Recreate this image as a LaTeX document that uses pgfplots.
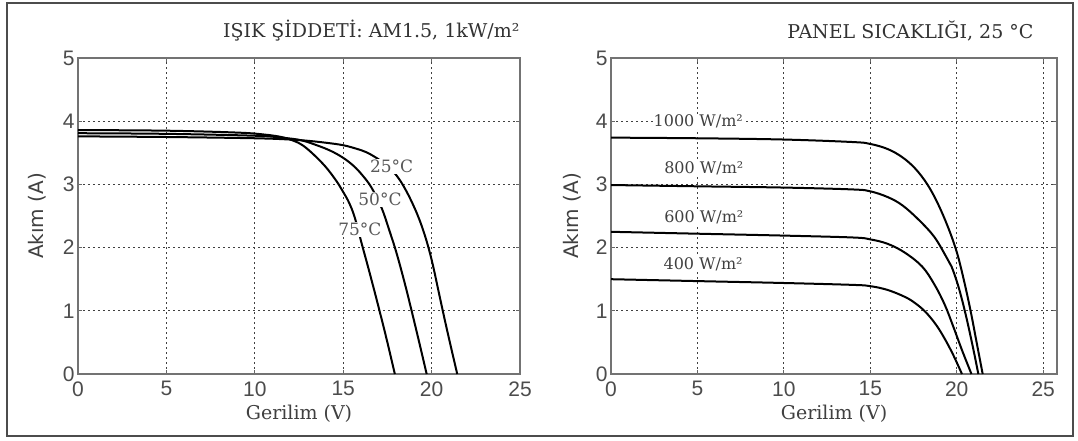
\documentclass[border=0pt]{standalone}
\usepackage{pgfplots}
\pgfplotsset{compat=1.18}
\usepackage{fontspec}
\setmainfont{DejaVu Serif}
\setsansfont{Liberation Sans}
\newfontfamily\dvsans{DejaVu Sans}

\pgfplotsset{
  myax/.style={
    scale only axis, anchor=south west,
    xmin=0, ymin=0, ymax=5,
    xtick={0,5,10,15,20,25}, ytick={0,1,2,3,4,5},
    grid=major,
    major grid style={black!75, line width=1pt, dash pattern=on 2pt off 3pt},
    axis line style={black!55, line width=1.3pt},
    tick style={black!60, line width=0.8pt},
    major tick length=4pt, tick align=inside,
    /pgf/number format/assume math mode=true,
    tick label style={font=\fontsize{21}{24}\selectfont\sffamily, text=black!70},
    xticklabel style={yshift=-4pt},
    xlabel={Gerilim (V)}, ylabel={Akım (A)},
    xlabel style={font=\fontsize{19}{22}\selectfont, text=black!75, at={(axis description cs:0.5,-0.125)}, anchor=center},
    ylabel style={font=\fontsize{20}{22}\selectfont\dvsans, text=black!75, anchor=center},
    every axis plot post/.append style={black, line width=2pt, mark=none, smooth, tension=0.6},
  },
}
\tikzset{clab/.style={font=\fontsize{17}{19}\selectfont, text=black!65, fill=white, inner sep=1pt}}

\begin{document}
\begin{tikzpicture}[x=1pt,y=1pt]
\useasboundingbox (0,0) rectangle (1078,440);
\fill[white] (0,0) rectangle (1078,440);
\draw[black!70, line width=2pt] (7,4) rectangle (1073,437);

\node[anchor=east, font=\fontsize{19}{22}\selectfont, text=black!80] at (523,409) {IŞIK ŞİDDETİ: AM1.5, 1kW/m²};
\node[anchor=east, font=\fontsize{19}{22}\selectfont, text=black!80] at (1037,409) {PANEL SICAKLIĞI, 25 °C};

\begin{axis}[myax, at={(78pt,66pt)}, width=442pt, height=316pt, xmax=25,
  ylabel style={at={(axis description cs:-0.093,0.5)}}]
% 75 C
\addplot coordinates {(0,3.86) (5,3.85) (9,3.82) (10.5,3.79) (11.5,3.75) (12.2,3.69) (12.7,3.62) (13.3,3.48) (14.0,3.28) (14.6,3.06) (15.0,2.88) (15.35,2.7) (15.66,2.47) (16.04,2.07) (16.4,1.7) (16.75,1.33) (17.1,0.95) (17.5,0.5) (17.92,0)};
% 50 C
\addplot coordinates {(0,3.81) (5,3.8) (10,3.77) (11.5,3.74) (12.6,3.7) (13.5,3.62) (14.3,3.53) (15,3.42) (15.6,3.29) (16.1,3.14) (16.6,2.95) (17.17,2.63) (17.6,2.28) (18.0,1.93) (18.45,1.47) (18.87,1.0) (19.3,0.5) (19.72,0)};
% 25 C
\addplot coordinates {(0,3.76) (5,3.75) (10,3.73) (12,3.71) (13,3.69) (14,3.66) (15,3.62) (15.8,3.56) (16.3,3.51) (16.7,3.45) (17.2,3.36) (17.6,3.27) (18.02,3.14) (18.4,2.98) (18.85,2.74) (19.3,2.45) (19.7,2.12) (20.05,1.75) (20.4,1.3) (20.75,0.85) (21.1,0.42) (21.45,0)};
\node[clab] at (axis cs:17.74,3.29) {25°C};
\node[clab] at (axis cs:17.08,2.76) {50°C};
\node[clab] at (axis cs:15.94,2.29) {75°C};
\end{axis}

\begin{axis}[myax, at={(611pt,66pt)}, width=446pt, height=316pt, xmax=25.8,
  ylabel style={at={(axis description cs:-0.087,0.5)}}]
\addplot coordinates {(0,3.74) (5,3.73) (10,3.71) (14,3.67) (15,3.64) (16,3.56) (16.85,3.43) (17.6,3.25) (18.3,3.0) (18.9,2.7) (19.5,2.32) (20,1.93) (20.4,1.5) (20.8,1.0) (21.15,0.5) (21.5,0)};
\addplot coordinates {(0,2.99) (5,2.97) (10,2.95) (14,2.92) (15,2.89) (16,2.8) (16.85,2.67) (17.8,2.44) (18.7,2.17) (19.4,1.85) (19.7,1.7) (20.1,1.38) (20.5,0.96) (20.9,0.47) (21.25,0)};
\addplot coordinates {(0,2.25) (5,2.22) (10,2.19) (14,2.16) (15,2.13) (16,2.06) (17,1.92) (18,1.7) (18.7,1.42) (19.3,1.1) (19.8,0.75) (20.3,0.38) (20.85,0)};
\addplot coordinates {(0,1.5) (5,1.47) (10,1.44) (14,1.41) (15,1.39) (16,1.33) (17,1.22) (17.6,1.12) (18.2,0.98) (18.8,0.78) (19.3,0.56) (19.8,0.3) (20.3,0)};
\node[clab, font=\fontsize{16}{18}\selectfont, text=black!75] at (axis cs:5.05,4.0) {1000 W/m²};
\node[clab, font=\fontsize{16}{18}\selectfont, text=black!75] at (axis cs:5.37,3.25) {800 W/m²};
\node[clab, font=\fontsize{16}{18}\selectfont, text=black!75] at (axis cs:5.37,2.48) {600 W/m²};
\node[clab, font=\fontsize{16}{18}\selectfont, text=black!75] at (axis cs:5.33,1.74) {400 W/m²};
\end{axis}
\end{tikzpicture}
\end{document}
